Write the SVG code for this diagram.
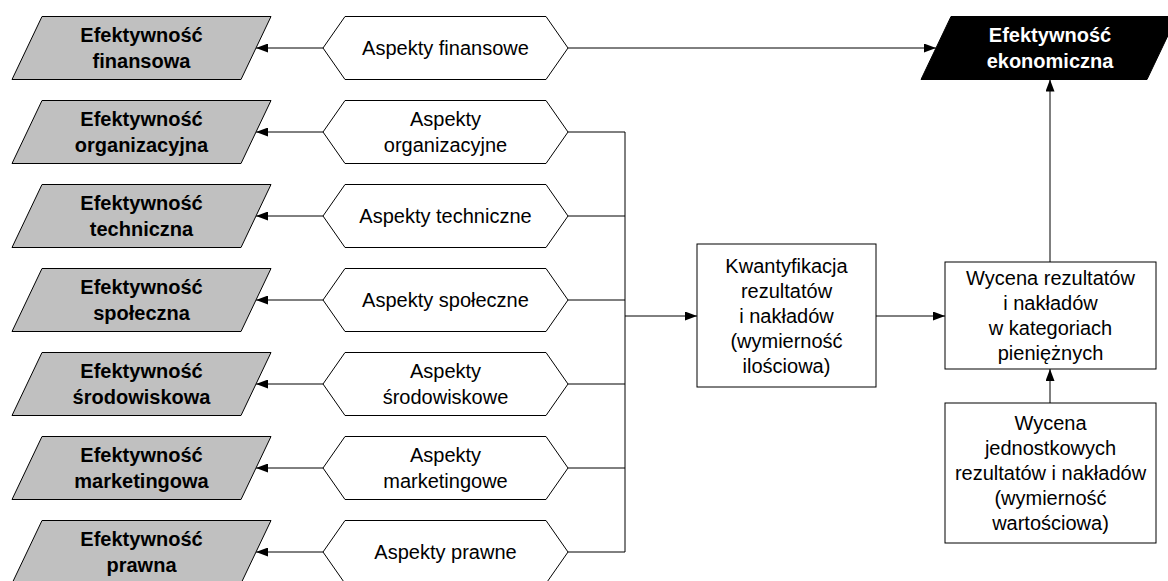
<svg xmlns="http://www.w3.org/2000/svg" width="1168" height="581" viewBox="0 0 1168 581">
<style>
.gray{fill:#c0c0c0;stroke:#000;stroke-width:1}
.black{fill:#000;stroke:#000;stroke-width:1}
.hex{fill:#fff;stroke:#000;stroke-width:1}
.box{fill:#fff;stroke:#000;stroke-width:1}
.t{font-family:"Liberation Sans",Arial,sans-serif;font-size:20px;fill:#000;text-anchor:middle}
.b{font-weight:bold}
.w{fill:#fff}
.c{fill:none;stroke:#000;stroke-width:1}
</style>
<defs>
<marker id="ah" markerWidth="12" markerHeight="9" refX="12" refY="4.5" orient="auto" markerUnits="userSpaceOnUse">
<path d="M0,0 L12,4.5 L0,9 z" fill="#000"/>
</marker>
</defs>
<rect width="1168" height="581" fill="#fff"/>
<g id="connectors">
<line class="c" x1="323" y1="48" x2="256" y2="48" marker-end="url(#ah)"/>
<line class="c" x1="323" y1="132" x2="256" y2="132" marker-end="url(#ah)"/>
<line class="c" x1="323" y1="216" x2="256" y2="216" marker-end="url(#ah)"/>
<line class="c" x1="323" y1="300" x2="256" y2="300" marker-end="url(#ah)"/>
<line class="c" x1="323" y1="384" x2="256" y2="384" marker-end="url(#ah)"/>
<line class="c" x1="323" y1="468" x2="256" y2="468" marker-end="url(#ah)"/>
<line class="c" x1="323" y1="552" x2="256" y2="552" marker-end="url(#ah)"/>
<line class="c" x1="568" y1="48" x2="936" y2="48" marker-end="url(#ah)"/>
<path class="c" d="M568,132 H625 M568,216 H625 M568,300 H625 M568,384 H625 M568,468 H625 M568,552 H625 M625,132 V552"/>
<line class="c" x1="625" y1="316" x2="697" y2="316" marker-end="url(#ah)"/>
<line class="c" x1="876" y1="316" x2="945" y2="316" marker-end="url(#ah)"/>
<line class="c" x1="1050" y1="262" x2="1050" y2="79.5" marker-end="url(#ah)"/>
<line class="c" x1="1050" y1="403" x2="1050" y2="369" marker-end="url(#ah)"/>
</g>
<g id="ef-finansowa">
<polygon class="gray" points="12,79.5 42,16.5 271,16.5 241,79.5"/>
<text class="t b" x="141.5" y="42">Efektywność</text>
<text class="t b" x="141.5" y="68">finansowa</text>
</g>
<g id="ef-organizacyjna">
<polygon class="gray" points="12,163.5 42,100.5 271,100.5 241,163.5"/>
<text class="t b" x="141.5" y="126">Efektywność</text>
<text class="t b" x="141.5" y="152">organizacyjna</text>
</g>
<g id="ef-techniczna">
<polygon class="gray" points="12,247.5 42,184.5 271,184.5 241,247.5"/>
<text class="t b" x="141.5" y="210">Efektywność</text>
<text class="t b" x="141.5" y="236">techniczna</text>
</g>
<g id="ef-spoleczna">
<polygon class="gray" points="12,331.5 42,268.5 271,268.5 241,331.5"/>
<text class="t b" x="141.5" y="294">Efektywność</text>
<text class="t b" x="141.5" y="320">społeczna</text>
</g>
<g id="ef-srodowiskowa">
<polygon class="gray" points="12,415.5 42,352.5 271,352.5 241,415.5"/>
<text class="t b" x="141.5" y="378">Efektywność</text>
<text class="t b" x="141.5" y="404">środowiskowa</text>
</g>
<g id="ef-marketingowa">
<polygon class="gray" points="12,499.5 42,436.5 271,436.5 241,499.5"/>
<text class="t b" x="141.5" y="462">Efektywność</text>
<text class="t b" x="141.5" y="488">marketingowa</text>
</g>
<g id="ef-prawna">
<polygon class="gray" points="12,583.5 42,520.5 271,520.5 241,583.5"/>
<text class="t b" x="141.5" y="546">Efektywność</text>
<text class="t b" x="141.5" y="572">prawna</text>
</g>
<g id="asp-finansowe">
<polygon class="hex" points="323,48 345,16.5 546,16.5 568,48 546,79.5 345,79.5"/>
<text class="t" x="445.5" y="55">Aspekty finansowe</text>
</g>
<g id="asp-organizacyjne">
<polygon class="hex" points="323,132 345,100.5 546,100.5 568,132 546,163.5 345,163.5"/>
<text class="t" x="445.5" y="126">Aspekty</text>
<text class="t" x="445.5" y="152">organizacyjne</text>
</g>
<g id="asp-techniczne">
<polygon class="hex" points="323,216 345,184.5 546,184.5 568,216 546,247.5 345,247.5"/>
<text class="t" x="445.5" y="223">Aspekty techniczne</text>
</g>
<g id="asp-spoleczne">
<polygon class="hex" points="323,300 345,268.5 546,268.5 568,300 546,331.5 345,331.5"/>
<text class="t" x="445.5" y="307">Aspekty społeczne</text>
</g>
<g id="asp-srodowiskowe">
<polygon class="hex" points="323,384 345,352.5 546,352.5 568,384 546,415.5 345,415.5"/>
<text class="t" x="445.5" y="378">Aspekty</text>
<text class="t" x="445.5" y="404">środowiskowe</text>
</g>
<g id="asp-marketingowe">
<polygon class="hex" points="323,468 345,436.5 546,436.5 568,468 546,499.5 345,499.5"/>
<text class="t" x="445.5" y="462">Aspekty</text>
<text class="t" x="445.5" y="488">marketingowe</text>
</g>
<g id="asp-prawne">
<polygon class="hex" points="323,552 345,520.5 546,520.5 568,552 546,583.5 345,583.5"/>
<text class="t" x="445.5" y="559">Aspekty prawne</text>
</g>
<g id="kwantyfikacja">
<rect class="box" x="697" y="244" width="179" height="143"/>
<text class="t" x="786.5" y="272.5">Kwantyfikacja</text>
<text class="t" x="786.5" y="297.5">rezultatów</text>
<text class="t" x="786.5" y="322.5">i nakładów</text>
<text class="t" x="786.5" y="347.5">(wymierność</text>
<text class="t" x="786.5" y="372.5">ilościowa)</text>
</g>
<g id="wycena-pieniezna">
<rect class="box" x="945" y="262" width="211" height="107"/>
<text class="t" x="1050.5" y="285">Wycena rezultatów</text>
<text class="t" x="1050.5" y="310">i nakładów</text>
<text class="t" x="1050.5" y="335">w kategoriach</text>
<text class="t" x="1050.5" y="360">pieniężnych</text>
</g>
<g id="wycena-jednostkowa">
<rect class="box" x="945" y="403" width="211" height="140"/>
<text class="t" x="1050.5" y="430">Wycena</text>
<text class="t" x="1050.5" y="455">jednostkowych</text>
<text class="t" x="1050.5" y="480">rezultatów i nakładów</text>
<text class="t" x="1050.5" y="505">(wymierność</text>
<text class="t" x="1050.5" y="530">wartościowa)</text>
</g>
<g id="ef-ekonomiczna">
<polygon class="black" points="921,79.5 951,16.5 1177,16.5 1147,79.5"/>
<text class="t b w" x="1050" y="42">Efektywność</text>
<text class="t b w" x="1050" y="68">ekonomiczna</text>
</g>
</svg>
